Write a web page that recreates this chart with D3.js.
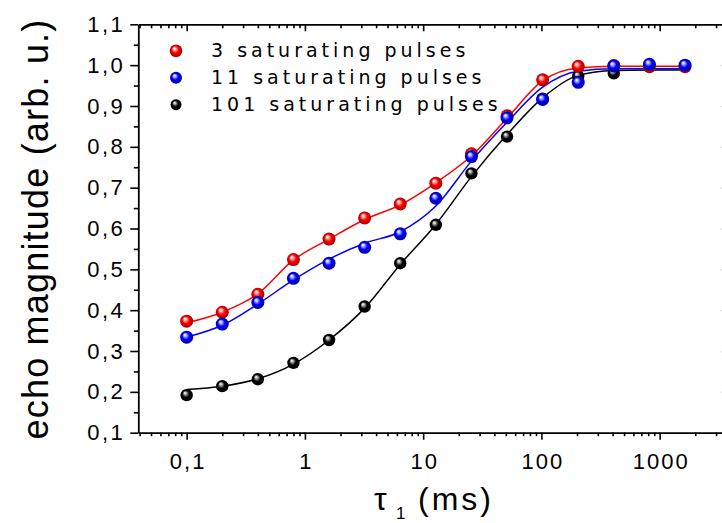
<!DOCTYPE html>
<html>
<head>
<meta charset="utf-8">
<script src="https://cdn.jsdelivr.net/npm/d3@7"></script>
<style>
  html, body { margin: 0; padding: 0; background: #fff; }
  svg { display: block; overflow: hidden; }
  .tick text { font-family: "Liberation Sans", Arial, sans-serif; }
</style>
</head>
<body>
<svg id="chart" width="722" height="523"></svg>
<script>
// Delay times (ms) and echo magnitudes for each pulse count
const tau = [0.1, 0.2, 0.4, 0.8, 1.6, 3.2, 6.4, 12.8, 25.6, 51.2, 102.4, 204.8, 409.6, 819.2, 1638.4];
const red3 = [0.373, 0.395, 0.439, 0.524, 0.574, 0.626, 0.660, 0.711, 0.783, 0.876, 0.964, 0.997, 0.999, 0.996, 0.996];
const blue11 = [0.334, 0.366, 0.419, 0.478, 0.515, 0.554, 0.587, 0.674, 0.776, 0.871, 0.916, 0.958, 0.998, 1.002, 1.000];
const black101 = [0.192, 0.214, 0.231, 0.271, 0.327, 0.409, 0.515, 0.609, 0.735, 0.825, 0.918, 0.973, 0.980];

// Fitted curves, sampled at the same delay times
const fit3 = [0.369, 0.395, 0.440, 0.523, 0.574, 0.622, 0.658, 0.712, 0.778, 0.870, 0.962, 0.993, 0.997, 0.997, 0.997];
const fit11 = [0.334, 0.363, 0.415, 0.474, 0.525, 0.564, 0.592, 0.655, 0.765, 0.860, 0.946, 0.985, 0.991, 0.991, 0.991];
const fit101 = [0.206, 0.214, 0.232, 0.268, 0.327, 0.405, 0.512, 0.610, 0.727, 0.830, 0.920, 0.975, 0.987, 0.988, 0.988];

const seriesNames = ["3 saturating pulses", "11 saturating pulses", "101 saturating pulses"];
const seriesColors = ["#ff0000", "#0000ff", "#000000"];

const xMajor = [0.1, 1, 10, 100, 1000];
const xMajorLabels = ["0,1", "1", "10", "100", "1000"];
const yMajor = [0.1, 0.2, 0.3, 0.4, 0.5, 0.6, 0.7, 0.8, 0.9, 1.0, 1.1];
const yMajorLabels = ["0,1", "0,2", "0,3", "0,4", "0,5", "0,6", "0,7", "0,8", "0,9", "1,0", "1,1"];

const svg = d3.select("#chart");

const plotLeft = 138.3, plotTop = 24.3, plotBottom = 432.7;
const pxPerDecade = 118.25;
const xDomain = [0.039, 3700];
const plotRight = plotLeft + Math.log10(xDomain[1] / xDomain[0]) * pxPerDecade;

const x = d3.scaleLog().domain(xDomain).range([plotLeft, plotRight]);
const y = d3.scaleLinear().domain([0.1, 1.1]).range([plotBottom, plotTop]);

// Minor ticks: 2..9 of each decade inside the domain
const xMinor = [];
for (let e = -2; e <= 3; e++) {
  for (let m = 2; m <= 9; m++) {
    const v = m * Math.pow(10, e);
    if (v > xDomain[0] && v < xDomain[1]) xMinor.push(v);
  }
}
const yMinor = d3.range(0.15, 1.1, 0.1);

const tickFont = "22px";
function styleAxis(g) {
  g.selectAll("path.domain").attr("stroke", "#000").attr("stroke-width", 1.8);
  g.selectAll(".tick line").attr("stroke", "#000").attr("stroke-width", 1.6);
}

// Bottom axis
const gBottom = svg.append("g").attr("transform", `translate(0,${plotBottom})`);
gBottom.call(d3.axisBottom(x).tickValues(xMajor).tickSizeInner(7).tickSizeOuter(0)
  .tickPadding(14).tickFormat((d, i) => xMajorLabels[i]));
gBottom.selectAll(".tick text").attr("font-size", tickFont).attr("fill", "#000")
  .attr("letter-spacing", "2px").attr("dx", "1px");
styleAxis(gBottom);
const gBottomMinor = svg.append("g").attr("transform", `translate(0,${plotBottom})`);
gBottomMinor.call(d3.axisBottom(x).tickValues(xMinor).tickSizeInner(3.5).tickSizeOuter(0).tickFormat(""));
gBottomMinor.select("path.domain").remove();
styleAxis(gBottomMinor);

// Top axis (ticks pointing inward)
const gTop = svg.append("g").attr("transform", `translate(0,${plotTop})`);
gTop.call(d3.axisBottom(x).tickValues(xMajor).tickSizeInner(7).tickSizeOuter(0).tickFormat(""));
styleAxis(gTop);
const gTopMinor = svg.append("g").attr("transform", `translate(0,${plotTop})`);
gTopMinor.call(d3.axisBottom(x).tickValues(xMinor).tickSizeInner(4).tickSizeOuter(0).tickFormat(""));
gTopMinor.select("path.domain").remove();
styleAxis(gTopMinor);

// Left axis
const gLeft = svg.append("g").attr("transform", `translate(${plotLeft},0)`);
gLeft.call(d3.axisLeft(y).tickValues(yMajor).tickSizeInner(8).tickSizeOuter(0)
  .tickPadding(5).tickFormat((d, i) => yMajorLabels[i]));
gLeft.selectAll(".tick text").attr("font-size", tickFont).attr("fill", "#000").attr("letter-spacing", "2.5px");
styleAxis(gLeft);
const gLeftMinor = svg.append("g").attr("transform", `translate(${plotLeft},0)`);
gLeftMinor.call(d3.axisLeft(y).tickValues(yMinor).tickSizeInner(4.5).tickSizeOuter(0).tickFormat(""));
gLeftMinor.select("path.domain").remove();
styleAxis(gLeftMinor);

// Right axis (ticks pointing inward)
const gRight = svg.append("g").attr("transform", `translate(${plotRight},0)`);
gRight.call(d3.axisLeft(y).tickValues(yMajor).tickSizeInner(5).tickSizeOuter(0).tickFormat(""));
styleAxis(gRight);

// Axis titles
svg.append("text")
  .attr("transform", `translate(48,229) rotate(-90)`)
  .attr("text-anchor", "middle")
  .attr("font-family", "Liberation Sans, Arial, sans-serif")
  .attr("font-size", "36px")
  .attr("letter-spacing", "1.2px")
  .attr("fill", "#000")
  .text("echo magnitude (arb. u.)");

const xTitle = svg.append("text")
  .attr("y", 510)
  .attr("font-family", "Liberation Sans, Arial, sans-serif")
  .attr("font-size", "32px")
  .attr("fill", "#000");
xTitle.append("tspan").attr("x", 374).text("τ");
xTitle.append("tspan").attr("x", 396).attr("font-size", "17px").attr("dy", 9).text("1");
xTitle.append("tspan").attr("x", 418).attr("dy", -9).attr("letter-spacing", "3px").text("(ms)");

// Sphere-shaded marker gradients
const defs = svg.append("defs");
const shade = [
  { id: "ball-red", light: "#ffc8c8", base: "#ff0000", dark: "#a00000" },
  { id: "ball-blue", light: "#c8c8ff", base: "#0000ff", dark: "#0000a0" },
  { id: "ball-black", light: "#c0c0c0", base: "#000000", dark: "#000000" }
];
shade.forEach(s => {
  const g = defs.append("radialGradient").attr("id", s.id)
    .attr("cx", "50%").attr("cy", "50%").attr("r", "50%")
    .attr("fx", "35%").attr("fy", "30%");
  g.append("stop").attr("offset", "0%").attr("stop-color", "#ffffff");
  g.append("stop").attr("offset", "18%").attr("stop-color", s.light);
  g.append("stop").attr("offset", "55%").attr("stop-color", s.base);
  g.append("stop").attr("offset", "100%").attr("stop-color", s.dark);
});

const line = d3.line()
  .x(d => x(d[0]))
  .y(d => y(d[1]))
  .curve(d3.curveMonotoneX);

const series = [
  { name: seriesNames[2], color: seriesColors[2], grad: "ball-black", pts: black101, fit: fit101, r: 6.2 },
  { name: seriesNames[0], color: seriesColors[0], grad: "ball-red", pts: red3, fit: fit3, r: 6.5 },
  { name: seriesNames[1], color: seriesColors[1], grad: "ball-blue", pts: blue11, fit: fit11, r: 6.5 }
];

// Fitted curves
series.forEach(s => {
  svg.append("path")
    .datum(s.fit.map((v, i) => [tau[i], v]))
    .attr("d", line)
    .attr("fill", "none")
    .attr("stroke", s.color)
    .attr("stroke-width", 1.5);
});

// Measured points
series.forEach(s => {
  svg.append("g").selectAll("circle")
    .data(s.pts.map((v, i) => [tau[i], v]))
    .join("circle")
    .attr("cx", d => x(d[0]))
    .attr("cy", d => y(d[1]))
    .attr("r", s.r)
    .attr("fill", `url(#${s.grad})`);
});

// Legend
const legendRows = [
  { label: seriesNames[0], grad: "ball-red", r: 6.3 },
  { label: seriesNames[1], grad: "ball-blue", r: 6 },
  { label: seriesNames[2], grad: "ball-black", r: 5.5 }
];
const legend = svg.append("g");
legendRows.forEach((row, i) => {
  const cy = 50.7 + i * 27;
  legend.append("circle").attr("cx", 176).attr("cy", cy).attr("r", row.r)
    .attr("fill", `url(#${row.grad})`);
  legend.append("text")
    .attr("x", 211).attr("y", cy + 6.5)
    .attr("font-family", "DejaVu Sans, Verdana, sans-serif")
    .attr("font-size", "19px")
    .attr("letter-spacing", "4px")
    .attr("fill", "#000")
    .text(row.label);
});
</script>
</body>
</html>
